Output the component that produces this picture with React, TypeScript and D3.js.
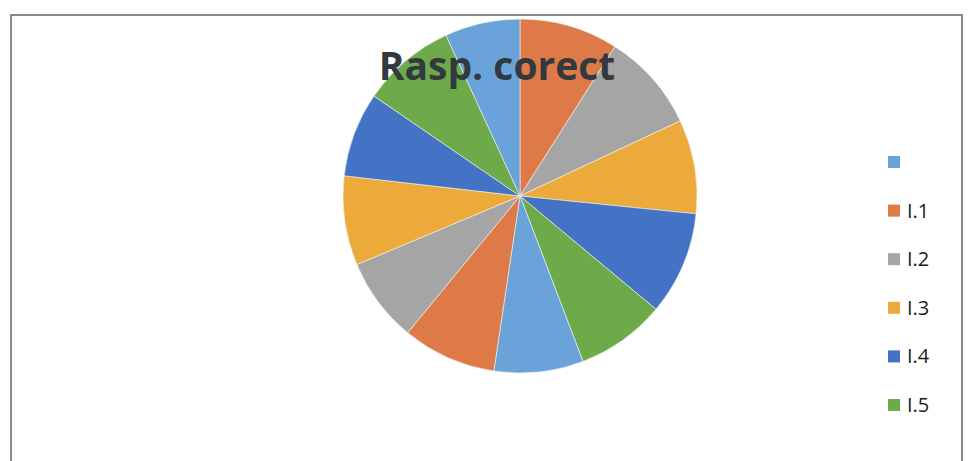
import * as React from "react";
import { useEffect, useRef } from "react";
import { select, pie, arc } from "d3";

const categories = ["", "I.1", "I.2", "I.3", "I.4", "I.5", "I.6", "I.7", "I.8", "I.9", "I.10", "I.11", "I.12"];
const values = [0, 21, 21, 20, 22, 19, 19, 20, 18, 19, 18, 20, 16];
const palette = ["#6AA3DA", "#DD7A47", "#A5A5A5", "#EBAA3A", "#4472C4", "#6DAA4A"];
const legendShown = 6;

const App: React.FC = () => {
    const node = useRef<SVGSVGElement>(null);
    const width = 969, height = 461;
    const cx = 520, cy = 196, radius = 177;

    useEffect(() => {
        if (!node.current) return;
        const svg = select(node.current);
        svg.selectAll("*").remove();

        // chart frame
        svg.append("rect")
            .attr("x", 11).attr("y", 15)
            .attr("width", 951).attr("height", 460)
            .attr("fill", "#fff")
            .attr("stroke", "#8a8a8a")
            .attr("stroke-width", 2);

        const data = categories.map((c, i) => ({ name: c, value: values[i], color: palette[i % palette.length] }));

        const slices = pie<typeof data[0]>()
            .value(d => d.value)
            .sort(null)(data);

        const arcGen = arc<any>().innerRadius(0).outerRadius(radius);

        svg.append("g")
            .attr("transform", `translate(${cx},${cy})`)
            .selectAll("path")
            .data(slices)
            .enter()
            .append("path")
            .attr("d", arcGen)
            .attr("fill", d => d.data.color)
            .attr("stroke", "#f4f4f4")
            .attr("stroke-width", 0.6);

        svg.append("text")
            .attr("x", 497).attr("y", 80)
            .attr("text-anchor", "middle")
            .attr("font-family", "'Open Sans', sans-serif")
            .attr("font-weight", "bold")
            .attr("font-size", 39)
            .attr("fill", "#333a3f")
            .text("Rasp. corect");

        const legend = svg.append("g");
        data.slice(0, legendShown).forEach((d, i) => {
            const y = 162 + i * 48.6;
            legend.append("rect")
                .attr("x", 888).attr("y", y - 6)
                .attr("width", 12).attr("height", 12)
                .attr("fill", d.color);
            legend.append("text")
                .attr("x", 907).attr("y", y + 7)
                .attr("font-family", "'Open Sans', sans-serif")
                .attr("font-size", 20)
                .attr("fill", "#1a1a1a")
                .text(d.name);
        });
    }, []);

    return (
        <svg ref={node} width={width} height={height}
             style={{ position: "absolute", left: 0, top: 0, background: "#fff" }} />
    );
};

export default App;
